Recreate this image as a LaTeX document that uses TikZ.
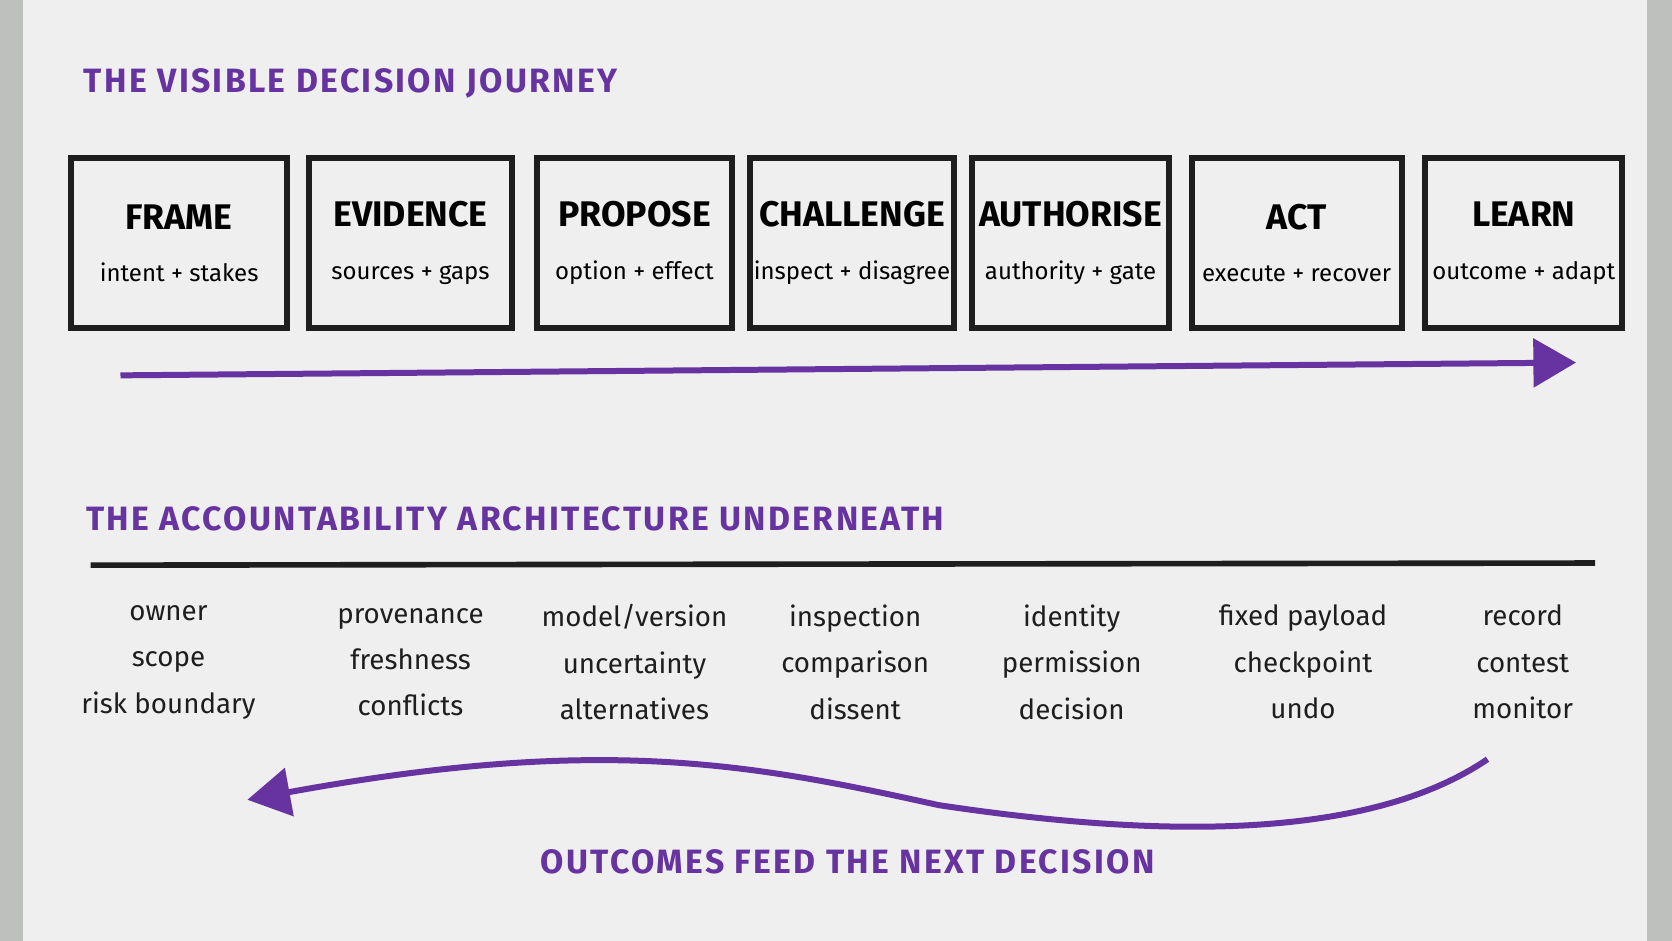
\documentclass[tikz,border=0pt]{standalone}
\usepackage{fontspec}
\setmainfont{Fira Sans}
\usetikzlibrary{positioning, arrows.meta}
\definecolor{BoardColor}{RGB}{238,239,238}
\definecolor{FrameColor}{RGB}{190,192,190}
\definecolor{InkColor}{RGB}{30,30,30}
\definecolor{MarkerColor}{RGB}{102,51,160}
\tikzstyle{stage} = [rectangle, draw=InkColor, line width=1.6pt, minimum width=1.85cm, minimum height=1.6cm, align=center, inner sep=1pt, font=\fontsize{6.4}{8}\selectfont]
\tikzstyle{title} = [anchor=west, inner sep=0pt, text=MarkerColor, font=\fontsize{9}{10}\selectfont\bfseries\addfontfeature{LetterSpace=7}]
\tikzstyle{items} = [align=center, font=\fontsize{7.4}{12.4}\selectfont, text=InkColor]
\tikzstyle{flow} = [line width=1.6pt, MarkerColor, -{Triangle[length=4mm, width=4.5mm]}]
\newcommand{\stagename}[1]{{\fontsize{9.5}{11}\selectfont\bfseries #1}\\[6pt]}
\begin{document}
\begin{tikzpicture}[x=0.1mm, y=-0.1mm]
            % Board
            \useasboundingbox (0,0) rectangle (1568,882);
            \fill[FrameColor] (0,0) rectangle (1568,882);
            \fill[BoardColor] (22,0) rectangle (1545,882);

            % Visible journey
            \node[title] (journey) at (78,78) {THE VISIBLE DECISION JOURNEY};
            \node[stage, minimum width=2.03cm] (frame) at (168,228) {\stagename{FRAME} intent + stakes};
            \node[stage, minimum width=1.9cm] (evidence) at (385,228) {\stagename{EVIDENCE} sources + gaps};
            \node[stage, minimum width=1.83cm] (propose) at (595,228) {\stagename{PROPOSE} option + effect};
            \node[stage, minimum width=1.82cm] (challenge) at (799,228) {\stagename{CHALLENGE} inspect + disagree};
            \node[stage, minimum width=1.85cm] (authorise) at (1004,228) {\stagename{AUTHORISE} authority + gate};
            \node[stage, minimum width=1.97cm] (act) at (1216,228) {\stagename{ACT} execute + recover};
            \node[stage, minimum width=1.85cm] (learn) at (1429,228) {\stagename{LEARN} outcome + adapt};
            \coordinate (flowstart) at (113,352);
            \coordinate (flowend) at (1478,340);
            \draw[flow] (flowstart) -- (flowend);

            % Architecture underneath
            \node[title] (arch) at (80,487) {THE ACCOUNTABILITY ARCHITECTURE UNDERNEATH};
            \coordinate (ruleL) at (85,530);
            \coordinate (ruleR) at (1496,528);
            \draw[InkColor, line width=1.5pt] (ruleL) -- (ruleR);
            \node[items] (owner) at (158,621) {owner\\ scope\\ risk boundary};
            \node[items] (prov) at (385,621) {provenance\\ freshness\\ conflicts};
            \node[items] (model) at (595,621) {model/version\\ uncertainty\\ alternatives};
            \node[items] (insp) at (802,621) {inspection\\ comparison\\ dissent};
            \node[items] (ident) at (1005,621) {identity\\ permission\\ decision};
            \node[items] (payload) at (1222,621) {fixed payload\\ checkpoint\\ undo};
            \node[items] (record) at (1428,621) {record\\ contest\\ monitor};

            % Feedback loop
            \coordinate (loopstart) at (1395,712);
            \coordinate (loopend) at (232,750);
            \draw[flow] (loopstart) .. controls (1280,790) and (1080,785) .. (880,755)
                        .. controls (700,715) and (560,690) .. (loopend);
            \node[title, anchor=center] (feed) at (795,808) {OUTCOMES FEED THE NEXT DECISION};
        \end{tikzpicture}
\end{document}
